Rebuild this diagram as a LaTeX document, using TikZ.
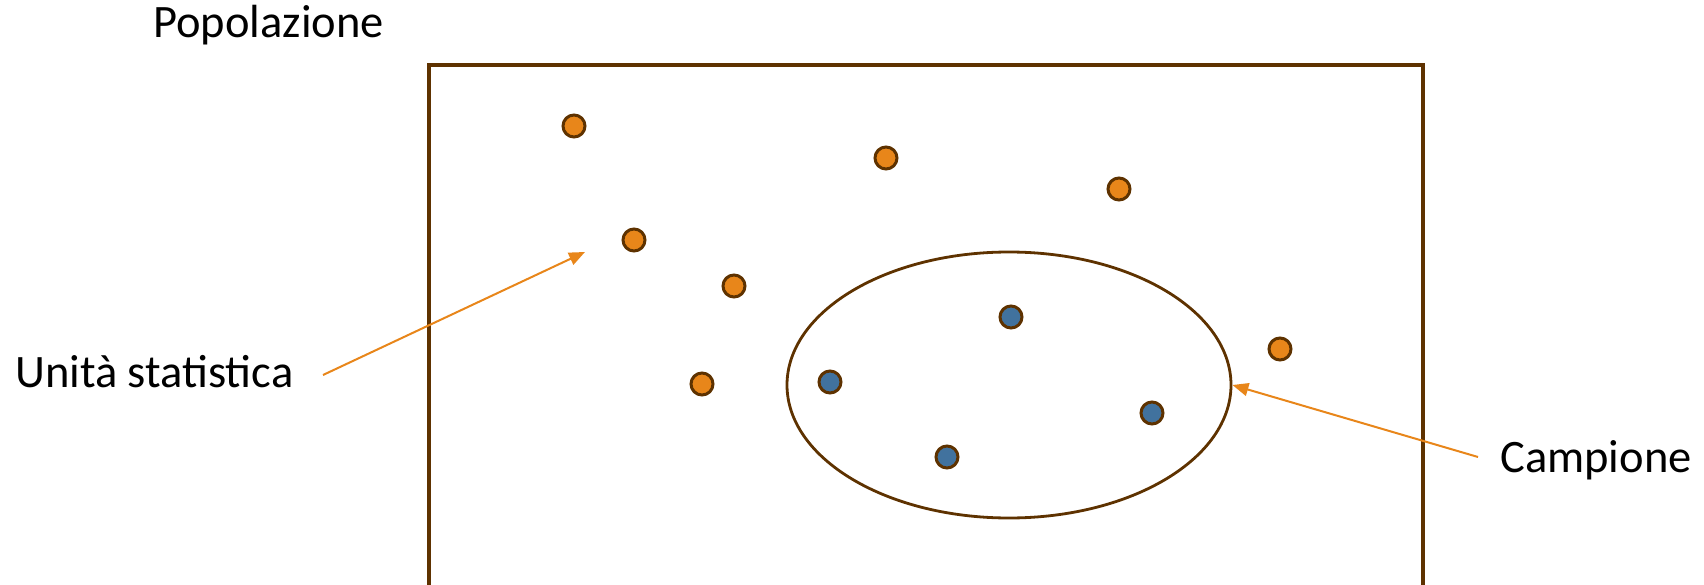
\documentclass[tikz,border=0pt]{standalone}
\usepackage{fontspec}
\setmainfont{Carlito}
\usetikzlibrary{arrows.meta,shapes.geometric}
\definecolor{brn}{HTML}{5E3200}
\definecolor{org}{HTML}{E8861A}
\definecolor{blu}{HTML}{41729E}
\begin{document}
\begin{tikzpicture}[x=1pt,y=-1pt,
  odot/.style={circle,draw=brn,fill=org,line width=3pt,minimum size=22pt,inner sep=0pt},
  bdot/.style={circle,draw=brn,fill=blu,line width=3pt,minimum size=22pt,inner sep=0pt},
  lbl/.style={font=\fontsize{46.5}{54}\selectfont,inner sep=0pt},
  arr/.style={draw=org,line width=2pt,-{Triangle[length=16pt,width=13pt]}}]
\useasboundingbox (0,0) rectangle (1704,585);
\clip (0,0) rectangle (1704,585);
\draw[brn,line width=3.2pt] (429,600) -- (429,65) -- (1423,65) -- (1423,600);
\node[ellipse,draw=brn,line width=2.8pt,minimum width=444pt,minimum height=266pt,inner sep=0pt] (samp) at (1009,385) {};
% orange units
\node[odot] (o1) at (574,126) {};
\node[odot] (o2) at (634,240) {};
\node[odot] (o3) at (886,158) {};
\node[odot] (o4) at (1119,189) {};
\node[odot] (o5) at (734,286) {};
\node[odot] (o6) at (702,384) {};
\node[odot] (o7) at (1280,349) {};
% blue units
\node[bdot] (b1) at (1011,317) {};
\node[bdot] (b2) at (830,382) {};
\node[bdot] (b3) at (1152,413) {};
\node[bdot] (b4) at (947,457) {};
% labels
\node[lbl,anchor=base west] (pop) at (153,38) {Popolazione};
\node[lbl,anchor=base west] (unit) at (15,387) {Unità statistica};
\node[lbl,anchor=base west] (camp) at (1500,472) {Campione};
\coordinate (a1) at (323,375);
\coordinate (t1) at (585,252);
\coordinate (a2) at (1478,457);
\draw[arr] (a1) -- (t1);
\draw[arr] (a2) -- (samp.east);
\end{tikzpicture}
\end{document}
